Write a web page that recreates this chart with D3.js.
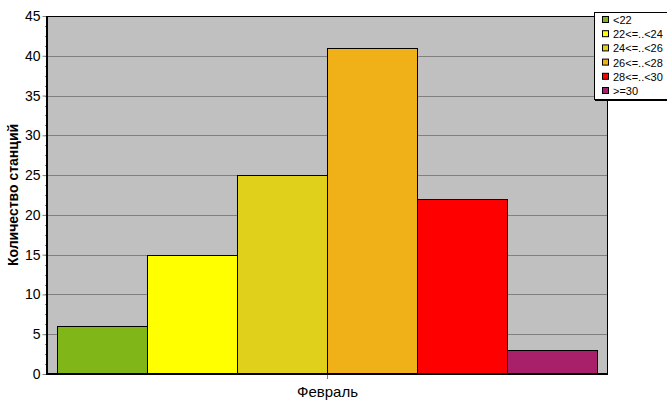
<!DOCTYPE html>
<html><head><meta charset="utf-8">
<script src="https://cdn.jsdelivr.net/npm/d3@7"></script>
<style>body{margin:0;background:#fff}svg{display:block}text{font-family:"Liberation Sans",Arial,sans-serif}</style>
</head><body><svg id="c" width="667" height="415"></svg>
<script>
const categories = ["Февраль"];
const seriesNames = ["<22", "22<=..<24", "24<=..<26", "26<=..<28", "28<=..<30", ">=30"];
const seriesValues = [6, 15, 25, 41, 22, 3];
const seriesColors = ["#80B618", "#FFFF00", "#E0D01C", "#F0B018", "#FF0000", "#A8206A"];
const yTicks = [0, 5, 10, 15, 20, 25, 30, 35, 40, 45];
const yTitle = "Количество станций";

const svg = d3.select("#c");
const L = 48, R = 607, T = 16, B = 374;
const y = d3.scaleLinear().domain([0, 45]).range([B, T]);
const x0 = d3.scaleBand().domain(categories).range([L, R]).paddingInner(0).paddingOuter(0.0176);
const x1 = d3.scaleBand().domain(seriesNames).range([0, x0.bandwidth()]).padding(0);

svg.append("rect").attr("x", L).attr("y", T).attr("width", R - L).attr("height", B - T).attr("fill", "#C0C0C0");

// gridlines
svg.append("g").selectAll("line").data(yTicks.filter(d => d > 0)).join("line")
  .attr("x1", L).attr("x2", R).attr("y1", d => Math.round(y(d)) + 0.5).attr("y2", d => Math.round(y(d)) + 0.5)
  .attr("stroke", "#808080").attr("stroke-width", 1);

// bars
const g = svg.append("g");
categories.forEach(cat => {
  g.selectAll("rect.bar").data(seriesValues.map((v, i) => ({v, name: seriesNames[i], color: seriesColors[i]}))).join("rect")
    .attr("class", "bar")
    .attr("x", d => Math.floor(x0(cat) + x1(d.name)) + 0.5)
    .attr("y", d => Math.round(y(d.v)) + 0.5)
    .attr("width", x1.bandwidth())
    .attr("height", d => B - Math.round(y(d.v)))
    .attr("fill", d => d.color).attr("stroke", "#000").attr("stroke-width", 1);
});

// plot border top/right
svg.append("line").attr("x1", L).attr("x2", R + 0.5).attr("y1", T + 0.5).attr("y2", T + 0.5).attr("stroke", "#000");
svg.append("line").attr("x1", R + 0.5).attr("x2", R + 0.5).attr("y1", T).attr("y2", B).attr("stroke", "#000");

// y minor ticks
const minor = d3.range(0, 45.01, 1.25);
svg.append("g").selectAll("line").data(minor).join("line")
  .attr("x1", 45).attr("x2", L).attr("y1", d => Math.round(y(d)) + 0.5).attr("y2", d => Math.round(y(d)) + 0.5)
  .attr("stroke", "#808080");
// y axis
const yAxis = d3.axisLeft(y).tickValues(yTicks).tickSize(5).tickPadding(2).tickFormat(d3.format("d"));
const ya = svg.append("g").attr("transform", `translate(${L - 0.5},0)`).call(yAxis);
ya.select(".domain").remove();
ya.selectAll(".tick line").attr("stroke", "#808080");
ya.selectAll(".tick text").attr("font-size", 14).attr("fill", "#000").attr("font-family", "Liberation Sans, Arial, sans-serif");

// x axis
const xAxis = d3.axisBottom(x0).tickSize(5).tickPadding(7);
const xa = svg.append("g").attr("transform", `translate(0,${B})`).call(xAxis);
xa.select(".domain").remove();
xa.selectAll(".tick line").attr("stroke", "#808080");
xa.selectAll(".tick text").attr("font-size", 15).attr("fill", "#000").attr("font-family", "Liberation Sans, Arial, sans-serif");

// thick axes
svg.append("line").attr("x1", L - 1).attr("x2", R + 1).attr("y1", B).attr("y2", B).attr("stroke", "#000").attr("stroke-width", 2);
svg.append("line").attr("x1", L - 1).attr("x2", L - 1).attr("y1", T).attr("y2", B + 1).attr("stroke", "#000").attr("stroke-width", 2);

// y title
svg.append("text").attr("transform", `translate(18,${(T + B) / 2}) rotate(-90)`)
  .attr("text-anchor", "middle").attr("font-size", 14).attr("font-weight", "bold").text(yTitle);

// legend
const lg = svg.append("g");
lg.append("rect").attr("x", 594.5).attr("y", 12.5).attr("width", 80).attr("height", 87).attr("fill", "#fff").attr("stroke", "#000");
lg.append("line").attr("x1", 595).attr("x2", 667).attr("y1", 100.5).attr("y2", 100.5).attr("stroke", "#000");
const items = lg.selectAll("g.it").data(seriesNames).join("g").attr("class", "it")
  .attr("transform", (d, i) => `translate(602,${20 + i * 14.2})`);
items.append("rect").attr("x", 0.5).attr("y", -3.5).attr("width", 6).attr("height", 6)
  .attr("fill", (d, i) => seriesColors[i]).attr("stroke", "#000");
items.append("text").attr("x", 11).attr("y", 4).attr("font-size", 11).text(d => d);
</script></body></html>
